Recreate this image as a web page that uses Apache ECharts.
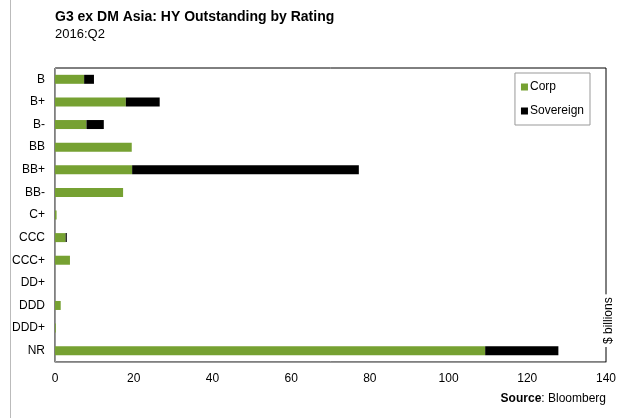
<!DOCTYPE html>
<html>
<head>
<meta charset="utf-8">
<script src="https://cdn.jsdelivr.net/npm/echarts@6/dist/echarts.min.js"></script>
<style>
  html, body { margin: 0; padding: 0; background: #fff; }
  #chart { width: 624px; height: 418px; }
</style>
</head>
<body>
<div id="chart"></div>
<script>
var ratings = ['B', 'B+', 'B-', 'BB', 'BB+', 'BB-', 'C+', 'CCC', 'CCC+', 'DD+', 'DDD', 'DDD+', 'NR'];
var corp = [7.4, 18.0, 8.0, 19.5, 19.6, 17.3, 0.4, 2.7, 3.8, 0, 1.45, 0.2, 109.3];
var sovereign = [2.5, 8.6, 4.4, 0, 57.6, 0, 0, 0.3, 0, 0, 0, 0, 18.6];
var xTicks = [0, 20, 40, 60, 80, 100, 120, 140];

var myChart = echarts.init(document.getElementById('chart'));
var font = 'Arial, "Liberation Sans", sans-serif';
var option = {
    animation: false,
    textStyle: { fontFamily: font },
    grid: { left: 55, top: 68, right: 18, bottom: 56, show: true, borderColor: '#000', borderWidth: 1 },
    legend: {
        data: ['Corp', 'Sovereign'],
        orient: 'vertical',
        right: 34,
        top: 73,
        itemWidth: 7,
        itemHeight: 7,
        itemGap: 12,
        padding: [8, 6, 8, 6],
        borderColor: '#999',
        borderWidth: 1,
        icon: 'rect',
        textStyle: { fontSize: 12, color: '#000', fontFamily: font, padding: [0, 0, 0, -3] }
    },
    xAxis: {
        type: 'value',
        min: xTicks[0],
        max: xTicks[xTicks.length - 1],
        interval: 20,
        splitLine: { show: false },
        axisLine: { show: true, lineStyle: { color: '#999' } },
        axisTick: { show: false },
        axisLabel: { color: '#000', fontSize: 12, margin: 11 }
    },
    yAxis: {
        type: 'category',
        data: ratings,
        inverse: true,
        axisLine: { show: true, lineStyle: { color: '#999' } },
        axisTick: { show: false },
        axisLabel: { color: '#000', fontSize: 12, margin: 10 }
    },
    series: [
        { name: 'Corp', type: 'bar', stack: 'r', data: corp, barWidth: 9, itemStyle: { color: '#76A132' } },
        { name: 'Sovereign', type: 'bar', stack: 'r', data: sovereign, barWidth: 9, itemStyle: { color: '#000' } }
    ],
    graphic: [
        { type: 'line', shape: { x1: 10.5, y1: 0, x2: 10.5, y2: 418 }, style: { stroke: '#bbb', lineWidth: 1 } },
        { type: 'text', left: 55, top: 10, style: { text: 'G3 ex DM Asia: HY Outstanding by Rating', font: 'bold 14px ' + font, fill: '#000' } },
        { type: 'text', left: 55, top: 28, style: { text: '2016:Q2', font: '13px ' + font, fill: '#000' } },
        { type: 'text', x: 609, y: 347, rotation: Math.PI / 2, z: 100, style: { text: '$ billions', font: '12px ' + font, fill: '#000', backgroundColor: '#fff', padding: [2, 3, 2, 3], align: 'left', verticalAlign: 'middle' } },
        { type: 'text', right: 18, top: 393, style: {
            rich: { b: { font: 'bold 12px ' + font, fill: '#000' }, n: { font: '12px ' + font, fill: '#000' } },
            text: '{b|Source}{n|: Bloomberg}'
        } }
    ]
};
myChart.setOption(option);
window.addEventListener('resize', function () {
    myChart.resize();
});
</script>
</body>
</html>
